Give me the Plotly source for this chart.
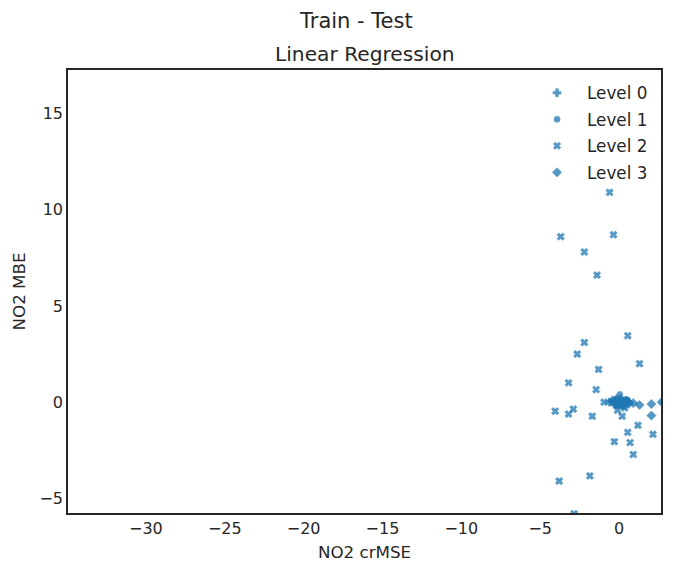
import plotly.graph_objects as go

level0_x = [-0.6, -0.25, -0.1, 0.1, 0.3, 0.5, -0.4, 0.2, -0.3, 0.0, 0.4, 0.6]
level0_y = [0.0, 0.05, -0.1, 0.1, 0.0, 0.05, 0.1, -0.15, -0.1, 0.0, -0.15, -0.1]
level1_x = [-0.5, -0.3, -0.15, 0.0, 0.15, 0.35, 0.55, 0.7, 0.05, -0.1, 0.25, -0.2, 0.45, 0.1]
level1_y = [0.05, -0.05, 0.15, -0.2, 0.1, -0.1, 0.1, -0.05, 0.4, 0.05, -0.2, -0.15, 0.15, 0.0]
level2_x = [-0.6, -3.7, -0.35, -2.2, -1.4, 0.55, -2.2, -2.65, 1.3, -1.3, -3.2, -1.45,
            -4.05, -3.2, -2.9, -1.7, -0.1, 0.2, 1.2, 0.55, 2.15, -0.3, 0.7, 0.9,
            -1.85, -3.8, -2.85, -0.95, -0.05, 0.35, 0.0, 0.15]
level2_y = [10.9, 8.6, 8.7, 7.8, 6.6, 3.45, 3.1, 2.5, 2.0, 1.7, 1.0, 0.65,
            -0.47, -0.62, -0.36, -0.73, -0.42, -0.73, -1.2, -1.57, -1.67, -2.05, -2.1, -2.72,
            -3.83, -4.1, -5.8, 0.0, 0.2, -0.3, -0.1, 0.1]
level3_x = [0.9, 1.3, 2.05, 2.05, 2.7, 0.5, -0.2, 0.3]
level3_y = [-0.05, -0.15, -0.1, -0.7, 0.0, 0.05, -0.05, -0.1]

names = ["Level 0", "Level 1", "Level 2", "Level 3"]
symbols = ["cross", "circle", "x", "diamond"]
sizes = [6.5, 6, 6.5, 7]
xs = [level0_x, level1_x, level2_x, level3_x]
ys = [level0_y, level1_y, level2_y, level3_y]

fig = go.Figure()
for n, s, sz, x, y in zip(names, symbols, sizes, xs, ys):
    fig.add_trace(go.Scatter(x=x, y=y, mode="markers", name=n, legendgroup=n,
                             marker=dict(symbol=s, size=sz, color="#1f77b4", opacity=0.75,
                                         line=dict(width=0.7, color="#1f77b4"))))

axis = dict(showgrid=False, zeroline=False, showline=True, mirror=True, linecolor="#262626",
            linewidth=1.6, ticks="", tickfont=dict(size=16, color="#262626"))
fig.update_layout(
    width=666, height=565, plot_bgcolor="white", paper_bgcolor="white",
    font=dict(family="DejaVu Sans", color="#262626"),
    margin=dict(l=59.5, r=13, t=61.5, b=60, autoexpand=False),
    xaxis=dict(axis, range=[-34.94, 2.66], tickvals=[-30, -25, -20, -15, -10, -5, 0],
               ticktext=["−30", "−25", "−20", "−15", "−10", "−5", "0"],
               title=dict(text="NO2 crMSE", font=dict(size=16.7), standoff=9)),
    yaxis=dict(axis, range=[-5.76, 17.26], tickvals=[-5, 0, 5, 10, 15],
               ticktext=["−5", "0", "5", "10", "15"],
               title=dict(text="NO2 MBE", font=dict(size=16.7), standoff=10)),
    legend=dict(x=0.9866, y=0.988, xanchor="right", yanchor="top", bgcolor="rgba(0,0,0,0)",
                font=dict(size=16.8), tracegroupgap=1.7, itemwidth=50),
    annotations=[
        dict(text="Train - Test", x=(355 - 67) / 594, y=(514 - 21) / 444, xref="paper", yref="paper",
             yanchor="middle", showarrow=False, font=dict(size=21)),
        dict(text="Linear Regression", x=(364.5 - 67) / 594, y=(514 - 54) / 444, xref="paper", yref="paper",
             yanchor="middle", showarrow=False, font=dict(size=20.2)),
    ],
)
fig.write_html("out.html")
